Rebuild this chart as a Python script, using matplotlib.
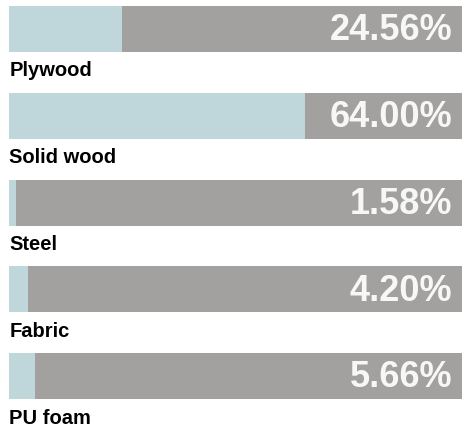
import matplotlib
matplotlib.use("Agg")
import matplotlib.pyplot as plt

categories = ["Plywood", "Solid wood", "Steel", "Fabric", "PU foam"]
values = [24.56, 64.00, 1.58, 4.20, 5.66]
labels = ["24.56%", "64.00%", "1.58%", "4.20%", "5.66%"]

W, H = 462, 432
fig = plt.figure(figsize=(W / 100, H / 100), dpi=100)
# axes spans from x=9px to 471px (bar clipped at figure edge)
ax = fig.add_axes([9 / W, 0, 462 / W, 1])
ax.set_xlim(0, 100)
ax.set_ylim(H, 0)
ax.axis("off")

blue = "#bfd6da"
gray = "#a3a19f"
step = 86.75
top0 = 6
bh = 46
for i, (cat, v, lab) in enumerate(zip(categories, values, labels)):
    yc = top0 + i * step + bh / 2
    ax.barh(yc, 100, height=bh, left=0, color=gray, linewidth=0)
    ax.barh(yc, v, height=bh, left=0, color=blue, linewidth=0)
    ax.text(96.0, yc + 11.3, lab, ha="right", va="baseline", color="#f7f7f7",
            fontsize=26, fontweight="bold", family="Liberation Sans")
    ax.text(0.1, yc + bh / 2 + 24.5, cat, ha="left", va="baseline", color="black",
            fontsize=14.5, fontweight="bold", family="Liberation Sans")

fig.savefig("out.png", dpi=100)
